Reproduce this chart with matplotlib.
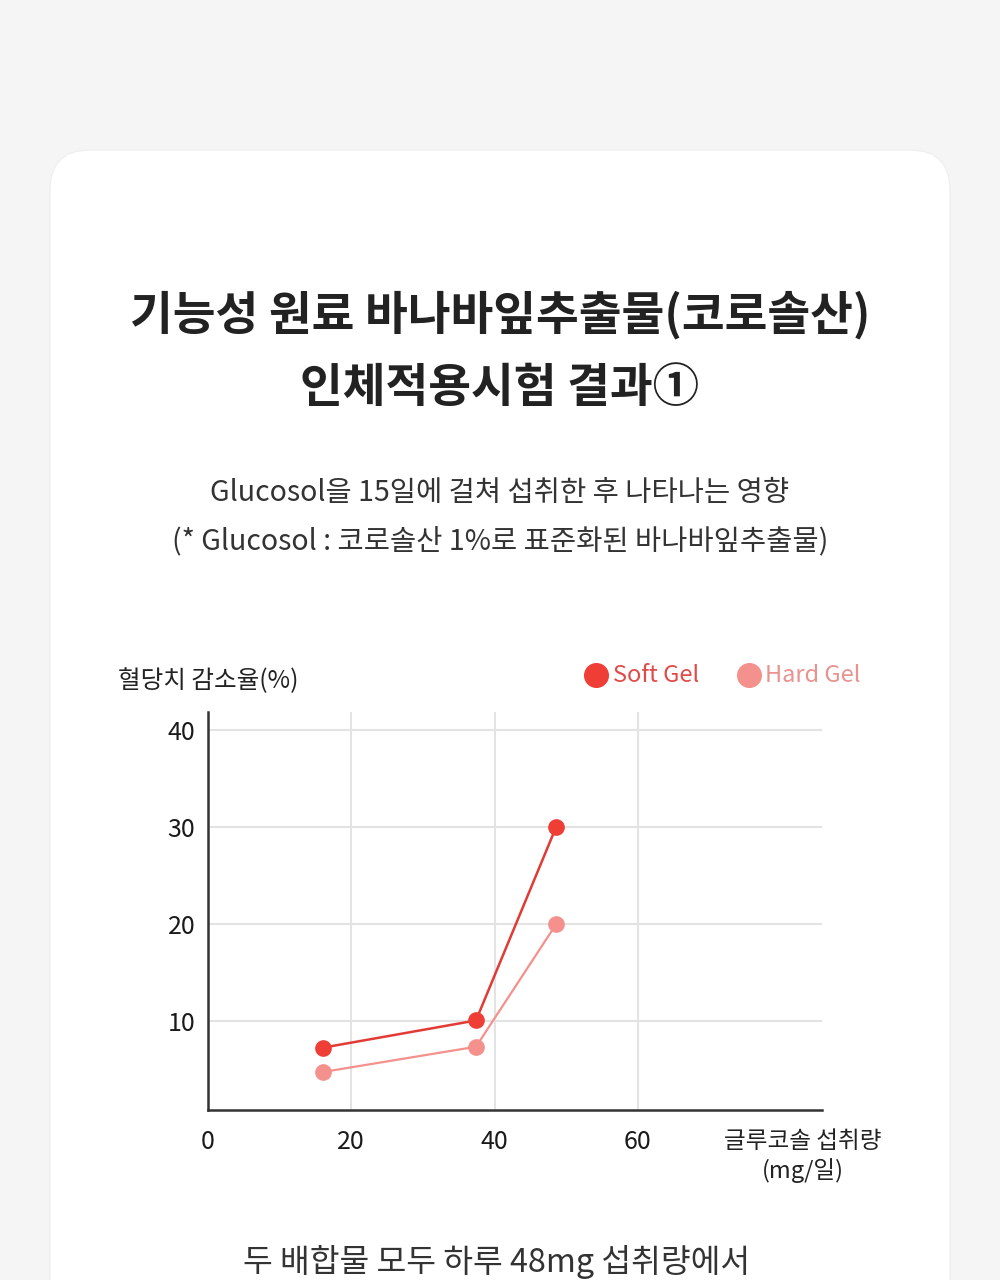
import matplotlib
matplotlib.use("Agg")
import matplotlib.pyplot as plt
from matplotlib.patches import FancyBboxPatch
from matplotlib.lines import Line2D

plt.rcParams['font.family'] = ['Noto Sans CJK KR', 'DejaVu Sans']

# data
dose = [16.0, 37.4, 48.6]
soft_gel = [7.3, 10.1, 30.0]
hard_gel = [4.8, 7.4, 20.0]
x_ticks = [0, 20, 40, 60]
y_ticks = [10, 20, 30, 40]

title_lines = ["기능성 원료 바나바잎추출물(코로솔산)", "인체적용시험 결과①"]
sub_lines = ["Glucosol을 15일에 걸쳐 섭취한 후 나타나는 영향",
             "(* Glucosol : 코로솔산 1%로 표준화된 바나바잎추출물)"]
bottom_text = "두 배합물 모두 하루 48mg 섭취량에서"

soft_color = "#ef3e36"
hard_color = "#f4918d"

fig = plt.figure(figsize=(10, 12.8), dpi=100)
fig.patch.set_facecolor("#f5f5f5")

# background layer in pixel units
bg = fig.add_axes([0, 0, 1, 1])
bg.set_xlim(0, 1000)
bg.set_ylim(1280, 0)
bg.axis("off")
card = FancyBboxPatch((50, 150), 900, 1300, boxstyle="round,pad=0,rounding_size=40",
                      facecolor="white", edgecolor="#efefef", linewidth=1)
bg.add_patch(card)

bg.text(500, 315, title_lines[0], ha="center", va="center", fontsize=33.5,
        fontweight="heavy", color="#222222")
bg.text(500, 388, title_lines[1], ha="center", va="center", fontsize=33.5,
        fontweight="heavy", color="#222222")
bg.text(500, 493, sub_lines[0], ha="center", va="center", fontsize=20.5, color="#333333")
bg.text(500, 541, sub_lines[1], ha="center", va="center", fontsize=20.5, color="#333333")
bg.text(118, 681, "혈당치 감소율(%)", ha="left", va="center", fontsize=17.7, color="#222222")
bg.text(803, 1142, "글루코솔 섭취량", ha="center", va="center", fontsize=17, color="#222222")
bg.text(803, 1171, "(mg/일)", ha="center", va="center", fontsize=17, color="#222222")
bg.text(497, 1262, bottom_text, ha="center", va="center", fontsize=23.3, color="#333333")

# legend drawn by hand
bg.add_line(Line2D([596], [675], marker="o", markersize=17, color=soft_color, linestyle="none"))
bg.text(613, 675, "Soft Gel", ha="left", va="center", fontsize=17, color="#e04a48")
bg.add_line(Line2D([749], [675], marker="o", markersize=17, color=hard_color, linestyle="none"))
bg.text(765, 675, "Hard Gel", ha="left", va="center", fontsize=17, color="#e99290")

# chart
ax = fig.add_axes([0.208, 1 - 1110 / 1280, (822 - 208) / 1000, (1110 - 712) / 1280])
ax.patch.set_alpha(0)
ax.set_xlim(0, 85.7)
ax.set_ylim(0.9, 41.8)
for v in x_ticks[1:]:
    ax.axvline(v, color="#e3e3e3", linewidth=1.5, zorder=1)
for v in y_ticks:
    ax.axhline(v, color="#e3e3e3", linewidth=1.5, zorder=1)

ax.plot(dose, hard_gel, color=hard_color, linewidth=1.6, marker="o", markersize=11, zorder=3)
ax.plot(dose, soft_gel, color="#e23a34", linewidth=1.8, marker="o", markersize=11,
        markerfacecolor=soft_color, markeredgecolor=soft_color, zorder=4)

for s in ["top", "right"]:
    ax.spines[s].set_visible(False)
for s in ["left", "bottom"]:
    ax.spines[s].set_color("#333333")
    ax.spines[s].set_linewidth(1.8)

ax.set_xticks(x_ticks)
ax.set_yticks(y_ticks)
ax.tick_params(length=0, labelsize=18, colors="#1a1a1a")
ax.tick_params(axis="x", pad=14)
ax.tick_params(axis="y", pad=9)

fig.savefig("out.png", dpi=100, facecolor=fig.get_facecolor())
